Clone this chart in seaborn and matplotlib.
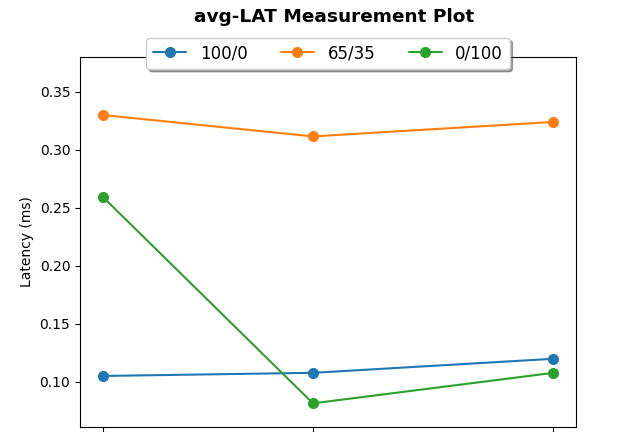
import numpy as np
import pandas as pd
import matplotlib
matplotlib.use('Agg')
import matplotlib.pyplot as plt
import seaborn as sns

x_vals = [1, 8, 16]
mixes = ['100/0', '65/35', '0/100']
lat_100_0 = [0.105, 0.1077, 0.1198]
lat_65_35 = [0.330, 0.3115, 0.324]
lat_0_100 = [0.2596, 0.0814, 0.1077]

df = pd.DataFrame({
    'x': x_vals * 3,
    'latency': lat_100_0 + lat_65_35 + lat_0_100,
    'mix': [m for m in mixes for _ in x_vals],
})

sns.set_style('ticks')
plt.rcParams['font.family'] = ['DejaVu Sans']
plt.rcParams.update({'text.color': 'black', 'axes.labelcolor': 'black',
                     'xtick.color': 'black', 'ytick.color': 'black',
                     'axes.edgecolor': 'black'})

fig = plt.figure(figsize=(6.4, 4.32), dpi=100)
ax = fig.add_axes([0.125, 0.0116, 0.775, 0.8565])

sns.lineplot(data=df, x='x', y='latency', hue='mix', hue_order=mixes,
             palette=['#1f77b4', '#ff7f0e', '#2ca02c'], marker='o',
             markersize=8, markeredgewidth=0, linewidth=1.5, ax=ax)

ax.set_ylim(0.061, 0.380)
ax.set_yticks([0.10, 0.15, 0.20, 0.25, 0.30, 0.35])
ax.set_xticks(x_vals)
ax.set_xticklabels([])
ax.set_xlabel('')
ax.set_ylabel('Latency (ms)', fontsize=10)
ax.tick_params(labelsize=10)
fig.text(0.522, 0.96, 'avg-LAT Measurement Plot', fontsize=13.3, fontweight='bold',
         ha='center', va='center')

ax.legend(loc='center', bbox_to_anchor=(0.5, 1.01), ncol=3, fontsize=12,
          shadow=True, frameon=True, handlelength=2)

fig.savefig('out.png', dpi=100)
